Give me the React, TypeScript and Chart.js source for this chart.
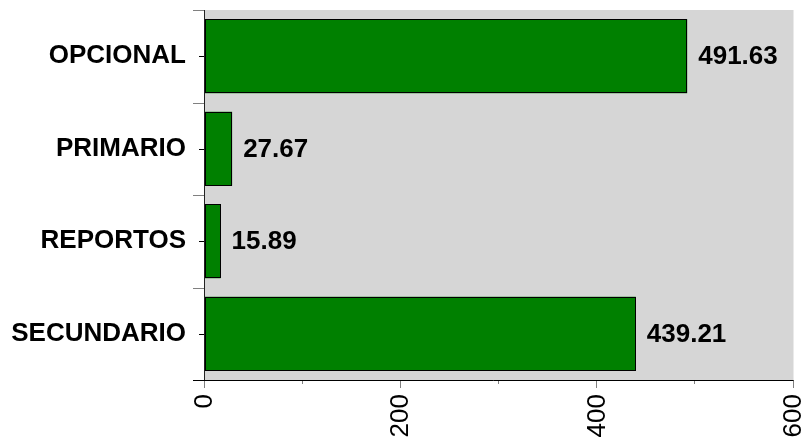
import { useEffect, useRef } from 'react';
import { Chart, registerables } from 'chart.js';

Chart.register(...registerables);

const categories = ['OPCIONAL', 'PRIMARIO', 'REPORTOS', 'SECUNDARIO'];
const values = [491.63, 27.67, 15.89, 439.21];
const xMajorTicks = [0, 200, 400, 600];
const xMinorTicks = [100, 300, 500];
const xMin = 0;
const xMax = 600;

const FONT = '"Liberation Sans", Arial, Helvetica, sans-serif';

const plotBg = {
  id: 'plotBg',
  beforeDatasetsDraw(chart: any) {
    const { ctx, chartArea: a } = chart;
    ctx.save();
    ctx.fillStyle = '#d6d6d6';
    ctx.fillRect(a.left, a.top, a.right - a.left, a.bottom - a.top);
    ctx.restore();
  },
};

const axesAndLabels = {
  id: 'axesAndLabels',
  afterDatasetsDraw(chart: any) {
    const { ctx, chartArea: a } = chart;
    const xs = chart.scales.x;
    const ys = chart.scales.y;
    const meta = chart.getDatasetMeta(0);
    ctx.save();
    ctx.lineWidth = 1;
    // crisp bar outlines
    ctx.strokeStyle = '#000';
    meta.data.forEach((bar: any) => {
      const p = bar.getProps(['x', 'y', 'base', 'height'], true);
      const l = Math.round(p.base) + 0.5;
      const r = Math.round(p.x) - 0.5;
      const t = Math.round(p.y - p.height / 2) + 0.5;
      const b = Math.round(p.y + p.height / 2) - 0.5;
      ctx.strokeRect(l, t, r - l, b - t);
    });
    // x major ticks
    ctx.strokeStyle = '#808080';
    xMajorTicks.forEach((v) => {
      const px = Math.round(xs.getPixelForValue(v)) - 0.5;
      ctx.beginPath();
      ctx.moveTo(px, a.bottom);
      ctx.lineTo(px, a.bottom + 8);
      ctx.stroke();
    });
    xMinorTicks.forEach((v) => {
      const px = Math.round(xs.getPixelForValue(v)) - 0.5;
      ctx.beginPath();
      ctx.moveTo(px, a.bottom);
      ctx.lineTo(px, a.bottom + 4);
      ctx.stroke();
    });
    // y boundary ticks
    for (let i = 0; i <= categories.length; i++) {
      const py = Math.round(ys.getPixelForValue(i - 0.5)) + 0.5;
      ctx.strokeStyle = '#808080';
      ctx.beginPath();
      ctx.moveTo(a.left - 12, py);
      ctx.lineTo(a.left, py);
      ctx.stroke();
    }
    // y center ticks
    ctx.strokeStyle = '#000';
    categories.forEach((_, i) => {
      const py = Math.round(ys.getPixelForValue(i)) + 0.5;
      ctx.beginPath();
      ctx.moveTo(a.left - 6, py);
      ctx.lineTo(a.left, py);
      ctx.stroke();
    });
    // axis lines
    ctx.strokeStyle = '#222';
    ctx.beginPath();
    ctx.moveTo(a.left - 0.5, a.top);
    ctx.lineTo(a.left - 0.5, a.bottom + 1);
    ctx.stroke();
    ctx.strokeStyle = '#000';
    ctx.beginPath();
    ctx.moveTo(a.left - 12, a.bottom + 0.5);
    ctx.lineTo(a.right, a.bottom + 0.5);
    ctx.stroke();
    // value labels
    ctx.fillStyle = '#000';
    ctx.font = `bold 26px ${FONT}`;
    ctx.textAlign = 'left';
    ctx.textBaseline = 'middle';
    meta.data.forEach((bar: any, i: number) => {
      ctx.fillText(values[i].toFixed(2), bar.x + 11, bar.y + 1);
    });
    ctx.restore();
  },
};

export default function App() {
  const ref = useRef<HTMLCanvasElement | null>(null);
  useEffect(() => {
    if (!ref.current) return;
    const chart = new Chart(ref.current, {
      type: 'bar',
      data: {
        labels: categories,
        datasets: [
          {
            data: values,
            backgroundColor: '#008000',
            borderWidth: 0,
            inflateAmount: 0,
            barPercentage: 0.8,
            categoryPercentage: 1,
          },
        ],
      },
      options: {
        indexAxis: 'y',
        animation: false,
        responsive: true,
        maintainAspectRatio: false,
        devicePixelRatio: 1,
        layout: { padding: { top: 10, right: 12.5, left: 0, bottom: 0 } },
        plugins: {
          legend: { display: false },
          tooltip: { enabled: false },
          title: { display: false },
        },
        scales: {
          x: {
            type: 'linear',
            min: xMin,
            max: xMax,
            grid: { display: false, drawTicks: false },
            border: { display: false },
            ticks: {
              stepSize: 200,
              minRotation: 90,
              maxRotation: 90,
              padding: 14,
              color: '#000',
              font: { family: FONT, size: 26 },
            },
            afterFit(scale: any) {
              scale.height = 63;
              scale.paddingLeft = 0;
              scale.paddingRight = 0;
            },
          },
          y: {
            type: 'category',
            grid: { display: false, drawTicks: false, offset: true },
            border: { display: false },
            ticks: {
              padding: 19,
              color: '#000',
              font: { family: FONT, size: 26, weight: 'bold' },
            },
            afterFit(scale: any) {
              scale.width = 205;
              scale.paddingTop = 0;
              scale.paddingBottom = 0;
            },
          },
        },
      },
      plugins: [plotBg, axesAndLabels],
    });
    return () => chart.destroy();
  }, []);
  return (
    <div style={{ position: 'fixed', left: 0, top: 0, width: 806, height: 443, background: '#fff' }}>
      <canvas ref={ref} />
    </div>
  );
}
